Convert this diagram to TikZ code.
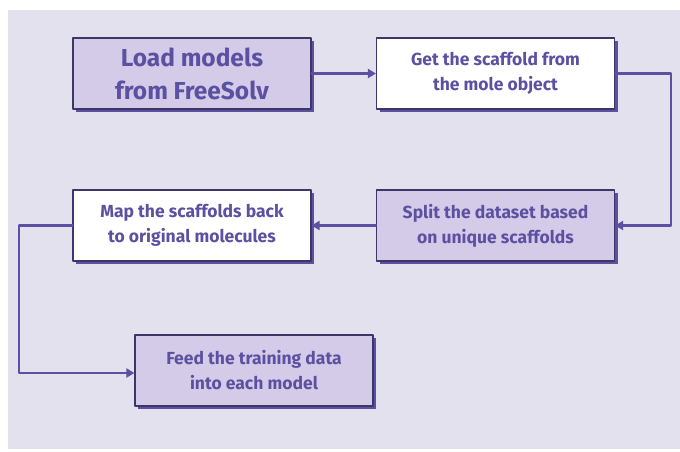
\documentclass[tikz,border=0pt]{standalone}
\usepackage{fontspec}
\setmainfont{Fira Sans}
\usetikzlibrary{arrows.meta,shadows}

\begin{document}
\begin{tikzpicture}[x=1pt, y=-1pt, line cap=round, line join=round]
	% Colors matching the original image
	\definecolor{bgcol}{HTML}{E4E1EE}
	\definecolor{boxcol}{HTML}{D3CBE7}
	\definecolor{inkcol}{HTML}{5C50A2}
	\definecolor{edgecol}{HTML}{3F3668}
	
	\tikzset{
		flowbox/.style={draw=edgecol, line width=1.2pt, minimum width=238pt, minimum height=71pt,
			align=center, text=inkcol, font=\bfseries\fontsize{17.5}{25}\selectfont,
			drop shadow={shadow xshift=3pt, shadow yshift=-3pt, fill=inkcol, opacity=1}},
		lightbox/.style={flowbox, fill=boxcol},
		whitebox/.style={flowbox, fill=white},
		link/.style={draw=inkcol, line width=2.3pt, -{Triangle[length=8pt, width=9pt]}}
	}
	
	% Page and background
	\useasboundingbox (0,0) rectangle (680,451);
	\fill[bgcol] (8,10) rectangle (680,449);
	
	% Steps
	\node[lightbox, font=\bfseries\fontsize{24.5}{33}\selectfont] (load) at (192,73.5) {Load models\\from FreeSolv};
	\node[whitebox] (scaffold) at (495.5,73.5) {Get the scaffold from\\the mole object};
	\node[lightbox] (split) at (495.5,225.5) {Split the dataset based\\on unique scaffolds};
	\node[whitebox] (map) at (192,225.5) {Map the scaffolds back\\to original molecules};
	\node[lightbox] (feed) at (254,370.5) {Feed the training data\\into each model};
	
	% Connectors
	\coordinate (turnA) at (671,73.5);
	\coordinate (turnB) at (19,373);
	\draw[link] (load) -- (scaffold);
	\draw[link] (scaffold.east) -- (turnA) |- (split.east);
	\draw[link] (split) -- (map);
	\draw[link] (map.west) -| (turnB) -- (feed.west |- turnB);
\end{tikzpicture}
\end{document}
